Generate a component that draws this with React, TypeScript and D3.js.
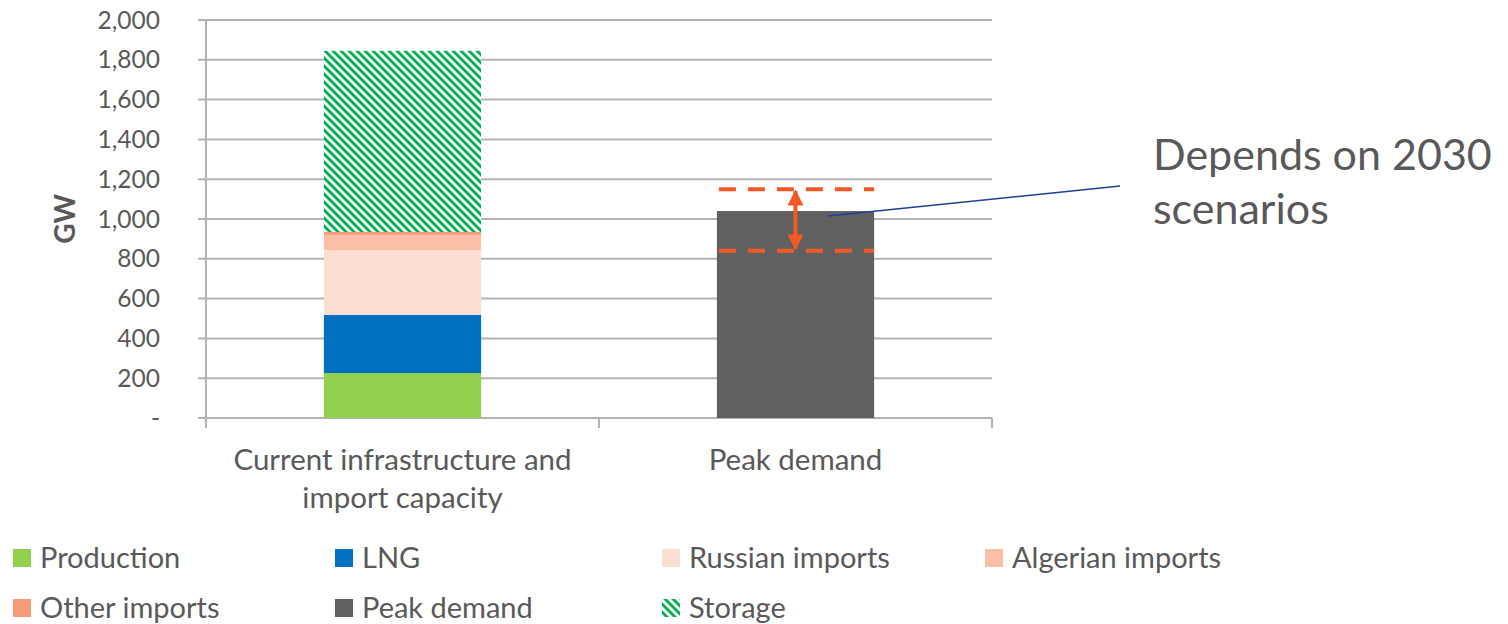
import React from "react";
import * as d3 from "d3";

const categories = ["Current infrastructure and import capacity", "Peak demand"];
const categoryLines = [["Current infrastructure and", "import capacity"], ["Peak demand"]];
const seriesNames = ["Production", "LNG", "Russian imports", "Algerian imports", "Other imports", "Peak demand", "Storage"];
const seriesColors = ["#92d050", "#0070c0", "#fcdfd3", "#fbbea6", "#f79b7b", "#606060", "url(#storagePattern)"];
const production = [226, 0];
const lng = [292, 0];
const russian = [326, 0];
const algerian = [76, 0];
const otherImports = [15, 0];
const peakDemand = [0, 1040];
const storage = [910, 0];
const rangeBounds = [840, 1150];
const yTicks = [0, 200, 400, 600, 800, 1000, 1200, 1400, 1600, 1800, 2000];
const annotation = ["Depends on 2030", "scenarios"];

const FONT = "Lato, 'Open Sans', sans-serif";
const TEXT = "#595959";

export default function App() {
  const W = 1508, H = 624;
  const x0 = 206, x1 = 992, yTop = 20, yBot = 418;
  const x = d3.scaleBand<string>().domain(categories).range([x0, x1]).paddingInner(0.6).paddingOuter(0.3);
  const y = d3.scaleLinear().domain([0, 2000]).range([yBot, yTop]);
  const seriesData = [production, lng, russian, algerian, otherImports, peakDemand, storage];
  const rows = categories.map((c, i) => {
    const r: any = { cat: c };
    seriesNames.forEach((s, k) => (r[s] = seriesData[k][i]));
    return r;
  });
  const stacked = d3.stack<any>().keys(seriesNames)(rows);
  const bw = x.bandwidth();
  const fmt = (v: number) => (v === 0 ? "-" : d3.format(",")(v));

  const cx2 = (x(categories[1]) as number) + bw / 2;
  const legendCols = [13, 335, 662, 985];
  const legendRows = [558, 608];

  return (
    <svg width={W} height={H} style={{ position: "absolute", left: 0, top: 0, display: "block" }}>
      <defs>
        <pattern id="storagePattern" width="5.66" height="5.66" patternUnits="userSpaceOnUse" patternTransform="rotate(-45)">
          <rect width="5.66" height="5.66" fill="#ffffff" />
          <rect width="2.9" height="5.66" fill="#00b050" />
        </pattern>
        <marker id="arrowHead" viewBox="0 0 10 10" refX="9" refY="5" markerWidth="4" markerHeight="4" orient="auto-start-reverse">
          <path d="M0,0 L10,5 L0,10 z" fill="#f15a24" />
        </marker>
      </defs>
      <rect width={W} height={H} fill="#fff" />
      {yTicks.map((t) => (
        <g key={t}>
          <line x1={x0 - 8} x2={x1} y1={y(t)} y2={y(t)} stroke="#b3b3b3" strokeWidth={2} />
          <text x={160} y={y(t)} dy="0.35em" textAnchor="end" fontFamily={FONT} fontSize={24.5} fill={TEXT}>
            {fmt(t)}
          </text>
        </g>
      ))}
      <line x1={x0} x2={x0} y1={yTop} y2={yBot + 10} stroke="#b3b3b3" strokeWidth={2} />
      {[x0, (x0 + x1) / 2, x1].map((xx, i) => (
        <line key={i} x1={xx} x2={xx} y1={yBot} y2={yBot + 10} stroke="#b3b3b3" strokeWidth={2} />
      ))}
      <text transform={`translate(75,${y(1000)}) rotate(-90)`} textAnchor="middle" fontFamily={FONT} fontWeight="bold" fontSize={28} fill={TEXT}>
        GW
      </text>
      {stacked.map((s, k) => (
        <g key={seriesNames[k]} fill={seriesColors[k]}>
          {s.map((d, i) =>
            d[1] - d[0] > 0 ? (
              <rect key={i} x={x(categories[i])} width={bw} y={y(d[1])} height={y(d[0]) - y(d[1])} />
            ) : null
          )}
        </g>
      ))}
      {rangeBounds.map((v) => (
        <line key={v} x1={(x(categories[1]) as number) + 2} x2={(x(categories[1]) as number) + bw} y1={y(v)} y2={y(v)}
          stroke="#f15a24" strokeWidth={4} strokeDasharray="17 12" />
      ))}
      <line x1={cx2} x2={cx2} y1={y(rangeBounds[0]) - 2} y2={y(rangeBounds[1]) + 2} stroke="#f15a24" strokeWidth={4}
        markerStart="url(#arrowHead)" markerEnd="url(#arrowHead)" />
      <line x1={828} y1={216} x2={1120} y2={186} stroke="#1f3f99" strokeWidth={1.5} />
      {annotation.map((t, i) => (
        <text key={i} x={1153} y={170 + i * 54} fontFamily={FONT} fontSize={43} fill={TEXT}>
          {t}
        </text>
      ))}
      {categoryLines.map((lines, i) => (
        <text key={i} textAnchor="middle" fontFamily={FONT} fontSize={29.5} fill={TEXT}>
          {lines.map((l, j) => (
            <tspan key={j} x={(x(categories[i]) as number) + bw / 2} y={470 + j * 38}>
              {l}
            </tspan>
          ))}
        </text>
      ))}
      {seriesNames.map((s, k) => {
        const col = k % 4, row = Math.floor(k / 4);
        const lx = legendCols[col], ly = legendRows[row];
        return (
          <g key={s}>
            <rect x={lx} y={ly - 9} width={18} height={18} fill={seriesColors[k]} />
            <text x={lx + 27} y={ly} dy="0.35em" fontFamily={FONT} fontSize={29} fill={TEXT}>
              {s}
            </text>
          </g>
        );
      })}
    </svg>
  );
}
